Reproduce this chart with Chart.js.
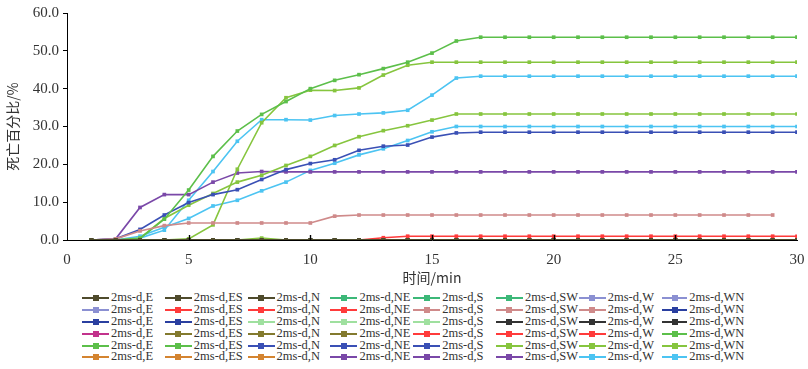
<!DOCTYPE html>
<html>
<head>
<meta charset="utf-8">
<script src="https://cdn.jsdelivr.net/npm/chart.js@4"></script>
<style>
  body { margin: 0; background: #fff; }
  #wrap { position: absolute; left: 0; top: 0; width: 808px; height: 290px; }
  #legend {
    position: absolute; left: 82px; top: 292px;
    display: grid; grid-template-columns: repeat(8, 82.8px); grid-auto-rows: 11.9px;
    font-family: "Liberation Serif", "Times New Roman", serif; font-size: 12.5px; color: #333;
  }
  #legend .item { display: flex; align-items: center; white-space: nowrap; line-height: 11.9px; }
  #legend .sw { position: relative; display: inline-block; width: 27px; height: 2px; margin-right: 2px; }
  #legend .sw i { position: absolute; left: 10.5px; top: -2px; width: 6px; height: 6px; }
</style>
</head>
<body>
<div id="wrap"><canvas id="deathChart"></canvas></div>
<div id="legend"></div>
<script>
// time axis (min)
var minutes = [1,2,3,4,5,6,7,8,9,10,11,12,13,14,15,16,17,18,19,20,21,22,23,24,25,26,27,28,29,30];
var directions = ['E','ES','N','NE','S','SW','W','WN'];
var yTicks = [0,10,20,30,40,50,60];

var zeroSeries = [0,0,0,0,0,0,0,0,0,0,0,0,0,0,0,0,0,0,0,0,0,0,0,0,0,0,0,0,0,0];
var greenTop   = [0,0,0.4,5.5,13.2,22.1,28.8,33.2,36.6,40.0,42.2,43.7,45.3,47.0,49.4,52.6,53.6,53.6,53.6,53.6,53.6,53.6,53.6,53.6,53.6,53.6,53.6,53.6,53.6,53.6];
var greenJump  = [0,0,0,0,0.3,4.0,18.7,31.0,37.6,39.6,39.5,40.2,43.6,46.2,47.0,47.0,47.0,47.0,47.0,47.0,47.0,47.0,47.0,47.0,47.0,47.0,47.0,47.0,47.0,47.0];
var greenMid   = [0,0,0.5,5.7,9.2,12.3,15.3,17.1,19.7,22.1,25.0,27.3,28.9,30.2,31.7,33.3,33.3,33.3,33.3,33.3,33.3,33.3,33.3,33.3,33.3,33.3,33.3,33.3,33.3,33.3];
var greenBlip  = [0,0,0,0,0,0,0,0.5,0,0,0,0,0,0,0,0,0,0,0,0,0,0,0,0,0,0,0,0,0,0];
var skyHigh    = [0,0,0.5,2.6,10.5,18.1,26.1,31.8,31.8,31.7,32.9,33.3,33.6,34.3,38.3,42.8,43.3,43.3,43.3,43.3,43.3,43.3,43.3,43.3,43.3,43.3,43.3,43.3,43.3,43.3];
var skyLow     = [0,0,1.0,3.4,5.7,9.0,10.5,13.0,15.3,18.4,20.3,22.5,24.1,26.3,28.6,30.0,30.0,30.0,30.0,30.0,30.0,30.0,30.0,30.0,30.0,30.0,30.0,30.0,30.0,30.0];
var blueLine   = [0,0.3,2.8,6.6,9.9,12.0,13.3,16.0,18.6,20.2,21.2,23.7,24.8,25.1,27.2,28.3,28.5,28.5,28.5,28.5,28.5,28.5,28.5,28.5,28.5,28.5,28.5,28.5,28.5,28.5];
var purpleLine = [0,0.3,8.6,12.0,12.0,15.3,17.7,18.1,18.0,18.0,18.0,18.0,18.0,18.0,18.0,18.0,18.0,18.0,18.0,18.0,18.0,18.0,18.0,18.0,18.0,18.0,18.0,18.0,18.0,18.0];
var rosyLine   = [0,0.3,2.4,3.8,4.5,4.5,4.5,4.5,4.5,4.5,6.3,6.6,6.6,6.6,6.6,6.6,6.6,6.6,6.6,6.6,6.6,6.6,6.6,6.6,6.6,6.6,6.6,6.6,6.6,null];
var redLine    = [null,null,null,null,null,null,null,null,null,null,null,0,0.6,1.0,1.0,1.0,1.0,1.0,1.0,1.0,1.0,1.0,1.0,1.0,1.0,1.0,1.0,1.0,1.0,1.0];

// legend colour of each of the 48 series (row by row)
var seriesColors = [
  '#4f4b2c','#4f4b2c','#4f4b2c','#3cb878','#3cb878','#3cb878','#8b90d2','#8b90d2',
  '#8b90d2','#ff3b3b','#ff3b3b','#ff3b3b','#cf8a8a','#cf8a8a','#cf8a8a','#2a3fa0',
  '#2a3fa0','#2a3fa0','#9fe09f','#9fe09f','#9fe09f','#333333','#333333','#333333',
  '#c2328c','#837a2e','#837a2e','#837a2e','#ff3b3b','#ff3b3b','#ff3b3b','#5cbf4a',
  '#5cbf4a','#5cbf4a','#3a50b5','#3a50b5','#3a50b5','#86c53e','#86c53e','#86c53e',
  '#d48430','#d48430','#d48430','#7a48a8','#7a48a8','#7a48a8','#4cc4f2','#4cc4f2'
];
// which series carry a non-zero curve
var seriesValues = {
  14: rosyLine, 30: redLine, 32: greenTop, 36: blueLine, 37: greenBlip,
  38: greenJump, 39: greenMid, 45: purpleLine, 46: skyHigh, 47: skyLow
};

var datasets = [];
for (var i = 0; i < seriesColors.length; i++) {
  var vals = seriesValues[i] || zeroSeries;
  var pts = [];
  for (var j = 0; j < minutes.length; j++) pts.push({x: minutes[j], y: vals[j]});
  datasets.push({
    label: '2ms-d,' + directions[i % 8],
    data: pts,
    borderColor: seriesColors[i],
    backgroundColor: seriesColors[i],
    borderWidth: 1.6,
    pointStyle: 'rect',
    pointRadius: 2.6,
    pointBorderWidth: 0,
    tension: 0
  });
}

var innerTicks = {
  id: 'innerTicks',
  afterDraw: function(chart) {
    var xs = chart.scales.x, c = chart.ctx, b = chart.chartArea.bottom;
    c.save();
    c.strokeStyle = '#000';
    c.lineWidth = 1.4;
    xs.ticks.forEach(function(t) {
      if (t.value <= 0 || t.value >= 30) return;
      var px = Math.round(xs.getPixelForValue(t.value)) + 0.5;
      c.beginPath(); c.moveTo(px, b); c.lineTo(px, b - 5); c.stroke();
    });
    c.restore();
  }
};

var tickFont = {family: '"Liberation Serif", "Times New Roman", serif', size: 15};

var chart = new Chart(document.getElementById('deathChart'), {
  type: 'line',
  data: {datasets: datasets},
  options: {
    responsive: true,
    maintainAspectRatio: false,
    animation: false,
    layout: {padding: {top: 12, right: 11, left: 0, bottom: 0}},
    plugins: {legend: {display: false}, tooltip: {enabled: false}},
    scales: {
      x: {
        type: 'linear', min: 0, max: 30,
        ticks: {stepSize: 5, color: '#333', font: tickFont, padding: 3},
        grid: {display: false},
        border: {display: true, color: '#000', width: 1},
        title: {display: true, text: '时间/min', color: '#333',
                font: {family: '"Noto Sans CJK SC"', size: 14}, padding: {top: 1}},
        afterFit: function(s) { s.height = 50; }
      },
      y: {
        min: 0, max: 60,
        afterBuildTicks: function(s) { s.ticks = yTicks.map(function(v) { return {value: v}; }); },
        ticks: {color: '#333', font: tickFont, padding: 4,
                callback: function(v) { return v.toFixed(1); }},
        grid: {drawOnChartArea: false, drawTicks: true, tickLength: 4, color: '#000'},
        border: {display: true, color: '#000', width: 1},
        title: {display: true, text: '死亡百分比/%', color: '#333',
                font: {family: '"Noto Sans CJK SC"', size: 14}, padding: {bottom: 2}},
        afterFit: function(s) { s.width = 67; }
      }
    }
  },
  plugins: [innerTicks]
});

// legend grid, 8 per row like the figure
var legendBox = document.getElementById('legend');
chart.data.datasets.forEach(function(ds) {
  var item = document.createElement('div');
  item.className = 'item';
  item.innerHTML = '<span class="sw" style="background:' + ds.borderColor + '"><i style="background:' +
    ds.borderColor + '"></i></span><span>' + ds.label + '</span>';
  legendBox.appendChild(item);
});
</script>
</body>
</html>
